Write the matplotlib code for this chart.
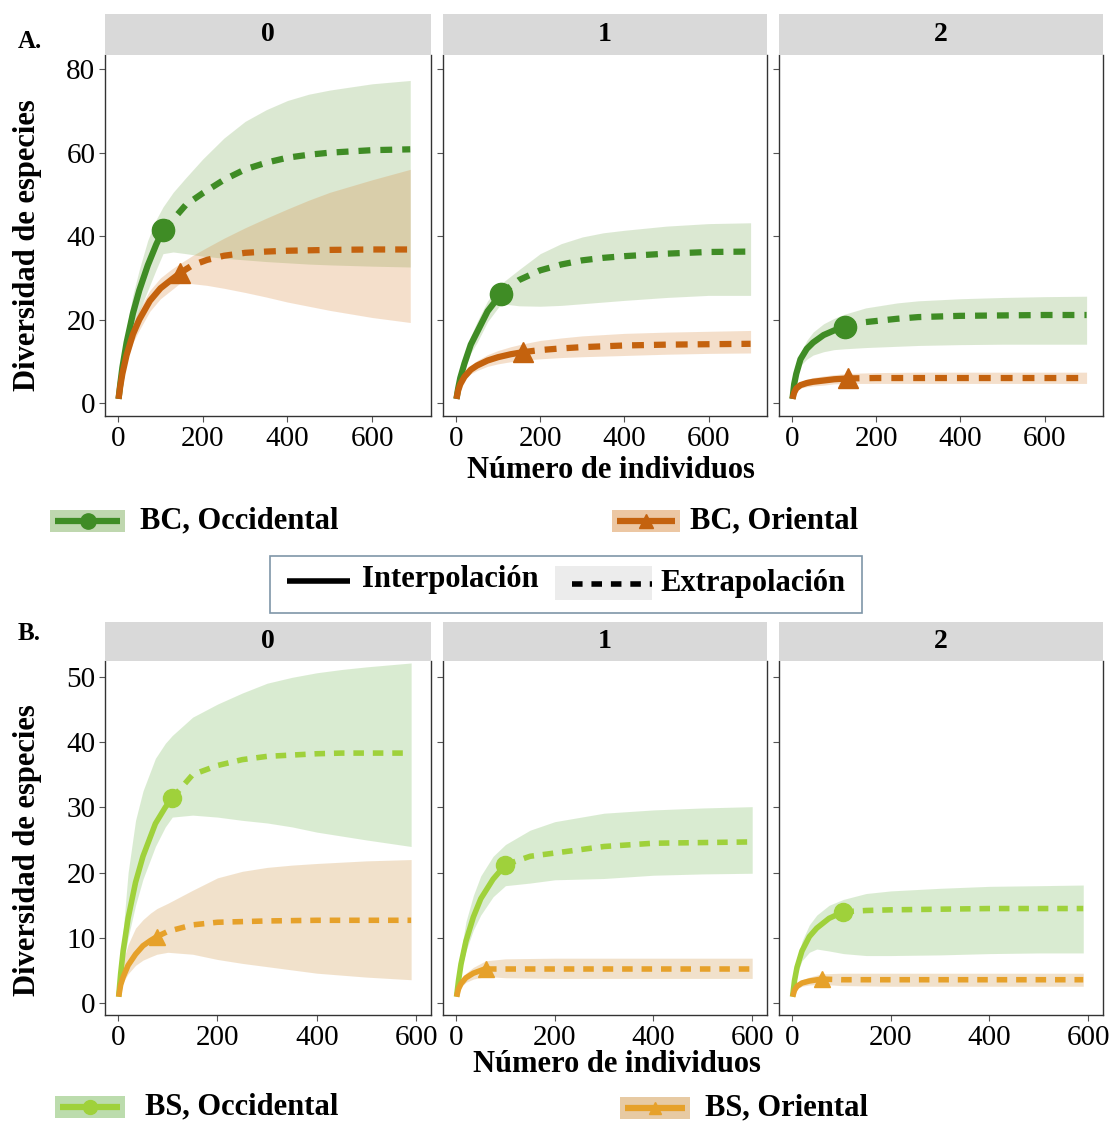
import numpy as np
import matplotlib
matplotlib.use('Agg')
from matplotlib import pyplot as plt
from matplotlib.patches import Rectangle

plt.rcParams['font.family'] = ['Liberation Serif', 'DejaVu Serif']

# ---- data (x = individuals, y = diversity, lo/hi = ribbon) ----
# Panel A (BC), q = 0
a0_occ_n = 106
a0_occ_x = [1, 5, 10, 20, 35, 50, 70, 90, 106, 130, 160, 200, 250, 300, 350, 400, 450, 500, 600, 690]
a0_occ_y = [1, 4.5, 8.5, 14.5, 21.5, 27, 33, 38, 41.4, 44, 47.5, 50.3, 53.5, 56, 57.6, 58.8, 59.5, 60, 60.6, 60.8]
a0_occ_hi = [1, 5.5, 10.5, 18, 26, 32, 39, 44, 47, 50.5, 54, 58.5, 63.5, 67.5, 70.3, 72.5, 74, 75, 76.5, 77.3]
a0_occ_lo = [1, 3.5, 6.5, 11, 17, 22, 27, 32, 35.8, 36.2, 35.8, 35.2, 34.7, 34.3, 33.9, 33.6, 33.3, 33.1, 32.8, 32.6]

a0_ori_n = 147
a0_ori_x = [1, 5, 10, 20, 35, 50, 75, 100, 125, 147, 175, 210, 250, 300, 350, 400, 450, 500, 600, 690]
a0_ori_y = [1, 4, 7, 11.5, 16.5, 20, 24.5, 27.5, 29.5, 31.2, 33, 34.3, 35.3, 36, 36.3, 36.5, 36.6, 36.7, 36.8, 36.8]
a0_ori_hi = [1, 4.5, 8, 13, 18.5, 22.5, 27, 30, 32, 33.5, 35.3, 37.3, 39.5, 42, 44.3, 46.5, 48.6, 50.5, 53.5, 56]
a0_ori_lo = [1, 3.5, 6, 10, 14.5, 17.5, 22, 25, 27, 28.8, 28.6, 28.2, 27.5, 26.5, 25.4, 24.2, 23.2, 22.2, 20.5, 19.3]

# Panel A, q = 1
a1_occ_n = 107
a1_occ_x = [1, 5, 10, 20, 35, 50, 75, 107, 150, 200, 250, 300, 350, 400, 500, 600, 700]
a1_occ_y = [1, 3.5, 6, 9.5, 14, 17, 22, 26.2, 29.5, 31.8, 33.2, 34.2, 34.8, 35.2, 35.8, 36.2, 36.3]
a1_occ_hi = [1, 4, 7, 11, 16, 19.5, 24.5, 28.6, 32, 35.8, 38.2, 39.8, 40.8, 41.4, 42.4, 43, 43.2]
a1_occ_lo = [1, 3, 5, 8, 12, 14.5, 19.5, 23.8, 23.3, 23.2, 23.4, 23.8, 24.2, 24.6, 25.3, 25.8, 25.8]

a1_ori_n = 159
a1_ori_x = [1, 5, 10, 20, 35, 50, 75, 100, 130, 159, 200, 250, 300, 400, 500, 600, 700]
a1_ori_y = [1, 3, 4.5, 6.3, 8, 9, 10.2, 11, 11.7, 12.2, 12.7, 13.1, 13.4, 13.8, 14, 14.1, 14.2]
a1_ori_hi = [1, 3.4, 5, 7, 9, 10.2, 11.6, 12.6, 13.5, 14.2, 15, 15.6, 16.1, 16.7, 17, 17.2, 17.4]
a1_ori_lo = [1, 2.6, 4, 5.6, 7, 7.8, 8.8, 9.4, 9.9, 10.3, 10.6, 10.9, 11.1, 11.4, 11.7, 11.9, 12.0]

# Panel A, q = 2
a2_occ_n = 125
a2_occ_x = [1, 5, 10, 20, 35, 50, 75, 100, 125, 175, 250, 300, 400, 500, 600, 700]
a2_occ_y = [1, 4.5, 7, 10.5, 13, 14.5, 16.3, 17.4, 18.2, 19.4, 20.2, 20.6, 20.9, 21.0, 21.1, 21.1]
a2_occ_hi = [1, 5, 8, 12, 15, 17, 19, 20.3, 21.3, 22.8, 24, 24.5, 25, 25.3, 25.5, 25.6]
a2_occ_lo = [1, 4, 6, 9, 10.5, 11.5, 12.3, 12.8, 13, 13.3, 13.6, 13.8, 14, 14.1, 14.1, 14.1]

a2_ori_n = 132
a2_ori_x = [1, 5, 10, 20, 35, 50, 75, 100, 132, 200, 300, 400, 500, 600, 700]
a2_ori_y = [1, 2.5, 3.5, 4.3, 4.8, 5.1, 5.4, 5.7, 5.9, 6.0, 6.0, 6.0, 6.0, 6.0, 6.0]
a2_ori_hi = [1, 2.8, 4, 5, 5.7, 6.1, 6.5, 6.8, 7.1, 7.3, 7.4, 7.4, 7.4, 7.4, 7.4]
a2_ori_lo = [1, 2.2, 3, 3.6, 3.9, 4.1, 4.3, 4.6, 4.7, 4.7, 4.7, 4.7, 4.7, 4.7, 4.7]

# Panel B (BS), q = 0
b0_occ_n = 109
b0_occ_x = [1, 5, 10, 20, 35, 50, 75, 95, 109, 150, 200, 250, 300, 350, 400, 450, 500, 590]
b0_occ_y = [1, 4.5, 8, 13, 18.5, 22.5, 27.5, 30, 31.4, 35, 36.4, 37.3, 37.8, 38.0, 38.2, 38.3, 38.3, 38.3]
b0_occ_hi = [1, 6, 11, 20, 28, 32.5, 37.5, 39.8, 41, 43.8, 45.8, 47.5, 49, 49.9, 50.6, 51.1, 51.5, 52.1]
b0_occ_lo = [1, 3.5, 6, 10, 15, 19, 24, 27, 28.5, 28.8, 28.5, 28, 27.6, 27.0, 26.2, 25.6, 25, 24]

b0_ori_n = 78
b0_ori_x = [1, 5, 10, 20, 35, 50, 65, 78, 100, 150, 200, 250, 300, 350, 400, 500, 590]
b0_ori_y = [1, 2.8, 4, 5.8, 7.5, 8.8, 9.6, 10.2, 11, 12, 12.4, 12.5, 12.6, 12.65, 12.7, 12.7, 12.7]
b0_ori_hi = [1, 4.5, 6.5, 9, 11.5, 12.8, 13.8, 14.5, 15.3, 17.3, 19.2, 20.2, 20.8, 21.15, 21.4, 21.8, 22]
b0_ori_lo = [1, 2.2, 3.2, 4.5, 5.8, 6.6, 7.1, 7.5, 7.8, 7.5, 6.7, 6.1, 5.6, 5.1, 4.6, 4.0, 3.6]

# Panel B, q = 1
b1_occ_n = 100
b1_occ_x = [1, 5, 10, 20, 35, 50, 75, 100, 150, 200, 300, 400, 500, 600]
b1_occ_y = [1, 3.5, 6, 9.5, 13.2, 16, 19, 21.2, 22.5, 23.0, 24.0, 24.5, 24.6, 24.7]
b1_occ_hi = [1, 4.5, 8, 12.5, 16.5, 19.5, 22.5, 24.3, 26.5, 27.8, 29.1, 29.6, 29.9, 30.1]
b1_occ_lo = [1, 3, 5, 8, 11.2, 13.5, 16.3, 18, 18.4, 18.9, 19.1, 19.6, 19.8, 19.9]

b1_ori_n = 60
b1_ori_x = [1, 5, 10, 20, 35, 60, 100, 200, 300, 400, 500, 600]
b1_ori_y = [1, 2.2, 3, 3.9, 4.6, 5.3, 5.3, 5.3, 5.3, 5.3, 5.3, 5.3]
b1_ori_hi = [1, 2.5, 3.5, 4.6, 5.5, 6.5, 6.8, 6.9, 6.9, 6.9, 6.9, 6.9]
b1_ori_lo = [1, 1.9, 2.5, 3.2, 3.7, 4.1, 3.9, 3.8, 3.8, 3.8, 3.8, 3.8]

# Panel B, q = 2
b2_occ_n = 104
b2_occ_x = [1, 5, 10, 20, 35, 50, 75, 104, 150, 200, 300, 400, 500, 590]
b2_occ_y = [1, 3.5, 5.5, 8, 10.2, 11.5, 13.0, 14.0, 14.2, 14.3, 14.4, 14.5, 14.5, 14.5]
b2_occ_hi = [1, 4, 6.5, 9.5, 12, 13.5, 15, 15.9, 16.8, 17.2, 17.6, 17.9, 18.0, 18.1]
b2_occ_lo = [1, 3, 4.5, 6.5, 7.8, 8.3, 8.0, 7.6, 7.3, 7.3, 7.4, 7.6, 7.7, 7.7]

b2_ori_n = 60
b2_ori_x = [1, 5, 10, 20, 35, 60, 100, 200, 300, 400, 500, 590]
b2_ori_y = [1, 2, 2.6, 3.1, 3.4, 3.7, 3.6, 3.6, 3.6, 3.6, 3.6, 3.6]
b2_ori_hi = [1, 2.3, 3, 3.6, 4, 4.5, 4.6, 4.6, 4.6, 4.6, 4.6, 4.6]
b2_ori_lo = [1, 1.7, 2.2, 2.6, 2.8, 2.9, 2.7, 2.6, 2.6, 2.6, 2.6, 2.6]

facet_labels = ['0', '1', '2']
group_labels_a = ['BC, Occidental', 'BC, Oriental']
group_labels_b = ['BS, Occidental', 'BS, Oriental']
method_labels = ['Interpolación', 'Extrapolación']

# colours
green_dark = '#3f8c25'
orange_dark = '#c4620e'
green_lime = '#9fd13b'
gold = '#e6a12a'
fill_green_a = '#73a74f'
fill_orange_a = '#d78333'
fill_green_b = '#6bb34b'
fill_gold_b = '#cb8b33'

W, H = 1114, 1124
fig = plt.figure(figsize=(W / 100, H / 100), dpi=100)


def px_axes(left, top, right, bottom):
    return fig.add_axes([left / W, 1 - bottom / H, (right - left) / W, (bottom - top) / H])


def draw_series(ax, x, y, lo, hi, n, color, fill, marker, ms, lw):
    x = np.array(x, dtype=float)
    y = np.array(y, dtype=float)
    ax.fill_between(x, lo, hi, color=fill, alpha=0.25, lw=0, zorder=1)
    inter = x <= n
    extra = x >= n
    ax.plot(x[inter], y[inter], color=color, lw=lw, solid_capstyle='butt',
            solid_joinstyle='round', zorder=3)
    ax.plot(x[extra], y[extra], color=color, lw=lw, dashes=(1.9, 1.6),
            dash_capstyle='butt', zorder=3)
    ax.plot([n], y[x == n], marker=marker, color=color, ms=ms, mec=color, zorder=4)


def style_axes(ax, xlim, ylim, yticks, show_y):
    ax.set_xlim(*xlim)
    ax.set_ylim(*ylim)
    ax.set_xticks([0, 200, 400, 600])
    ax.set_yticks(yticks)
    for s in ['left', 'bottom', 'right']:
        ax.spines[s].set_color('#333333')
        ax.spines[s].set_linewidth(1.0)
    ax.spines['top'].set_visible(False)
    ax.tick_params(direction='out', length=4, width=0.8, color='#555555',
                   labelsize=21, pad=3)
    if not show_y:
        ax.tick_params(axis='y', labelleft=False)
    ax.set_facecolor('white')


def strip(left, top, right, bottom, text):
    s = px_axes(left, top, right, bottom)
    s.set_facecolor('#d9d9d9')
    s.set_xticks([])
    s.set_yticks([])
    for sp in s.spines.values():
        sp.set_visible(False)
    s.text(0.5, 0.5, text, ha='center', va='center', fontsize=20, fontweight='bold',
           transform=s.transAxes)


facet_x = [(105, 431), (443, 767), (779, 1103)]

panel_a = [
    (a0_occ_x, a0_occ_y, a0_occ_lo, a0_occ_hi, a0_occ_n, a0_ori_x, a0_ori_y, a0_ori_lo, a0_ori_hi, a0_ori_n),
    (a1_occ_x, a1_occ_y, a1_occ_lo, a1_occ_hi, a1_occ_n, a1_ori_x, a1_ori_y, a1_ori_lo, a1_ori_hi, a1_ori_n),
    (a2_occ_x, a2_occ_y, a2_occ_lo, a2_occ_hi, a2_occ_n, a2_ori_x, a2_ori_y, a2_ori_lo, a2_ori_hi, a2_ori_n),
]
panel_b = [
    (b0_occ_x, b0_occ_y, b0_occ_lo, b0_occ_hi, b0_occ_n, b0_ori_x, b0_ori_y, b0_ori_lo, b0_ori_hi, b0_ori_n),
    (b1_occ_x, b1_occ_y, b1_occ_lo, b1_occ_hi, b1_occ_n, b1_ori_x, b1_ori_y, b1_ori_lo, b1_ori_hi, b1_ori_n),
    (b2_occ_x, b2_occ_y, b2_occ_lo, b2_occ_hi, b2_occ_n, b2_ori_x, b2_ori_y, b2_ori_lo, b2_ori_hi, b2_ori_n),
]

# Panel A
for i, (l, r) in enumerate(facet_x):
    ax = px_axes(l, 55, r, 416)
    d = panel_a[i]
    draw_series(ax, *d[0:5], green_dark, fill_green_a, 'o', 16, 4.5)
    draw_series(ax, *d[5:10], orange_dark, fill_orange_a, '^', 14, 4.5)
    style_axes(ax, (-31, 739), (-3.1, 83.4), [0, 20, 40, 60, 80], i == 0)
    strip(l, 14, r, 55, facet_labels[i])

# Panel B
for i, (l, r) in enumerate(facet_x):
    ax = px_axes(l, 661, r, 1015)
    d = panel_b[i]
    draw_series(ax, *d[0:5], green_lime, fill_green_b, 'o', 13, 4)
    draw_series(ax, *d[5:10], gold, fill_gold_b, '^', 12, 4)
    style_axes(ax, (-26.5, 630), (-1.8, 52.4), [0, 10, 20, 30, 40, 50], i == 0)
    strip(l, 622, r, 661, facet_labels[i])

# overlay in pixel coordinates for labels and legends
ov = fig.add_axes([0, 0, 1, 1])
ov.set_xlim(0, W)
ov.set_ylim(H, 0)
ov.axis('off')

bold = dict(fontweight='bold', fontsize=22)
ov.text(18, 42, 'A.', ha='left', va='center', fontweight='bold', fontsize=18)
ov.text(18, 633, 'B.', ha='left', va='center', fontweight='bold', fontsize=18)
ov.text(28, 245, 'Diversidad de especies', rotation=90, ha='center', va='center', **bold)
ov.text(28, 850, 'Diversidad de especies', rotation=90, ha='center', va='center', **bold)
ov.text(611, 470, 'Número de individuos', ha='center', va='center', **bold)
ov.text(617, 1065, 'Número de individuos', ha='center', va='center', **bold)


def group_key(x0, x1, yc, color, fill, marker, ms, label, tx):
    ov.add_patch(Rectangle((x0, yc - 11), x1 - x0, 22, facecolor=fill, alpha=0.45, lw=0))
    ov.plot([x0 + 5, x1 - 5], [yc, yc], color=color, lw=4.5, solid_capstyle='butt')
    ov.plot([(x0 + x1) / 2], [yc], marker=marker, color=color, ms=ms)
    ov.text(tx, yc, label, ha='left', va='center', **bold)


group_key(50, 125, 521, green_dark, fill_green_a, 'o', 11, group_labels_a[0], 140)
group_key(612, 680, 521, orange_dark, fill_orange_a, '^', 10, group_labels_a[1], 690)
group_key(55, 125, 1107, green_lime, fill_green_b, 'o', 10, group_labels_b[0], 145)
group_key(620, 690, 1108, gold, fill_gold_b, '^', 9, group_labels_b[1], 705)

# method legend
ov.add_patch(Rectangle((270, 556), 592, 57, facecolor='white', edgecolor='#7f96a8', lw=1.2))
ov.plot([287, 350], [581, 581], color='black', lw=4, solid_capstyle='butt')
ov.text(362, 579, method_labels[0], ha='left', va='center', **bold)
ov.add_patch(Rectangle((555, 566), 97, 34, facecolor='#ececec', lw=0))
ov.plot([572, 652], [584, 584], color='black', lw=4, dashes=(1.9, 1.6), dash_capstyle='butt')
ov.text(660, 583, method_labels[1], ha='left', va='center', **bold)

fig.savefig('out.png', dpi=100)
